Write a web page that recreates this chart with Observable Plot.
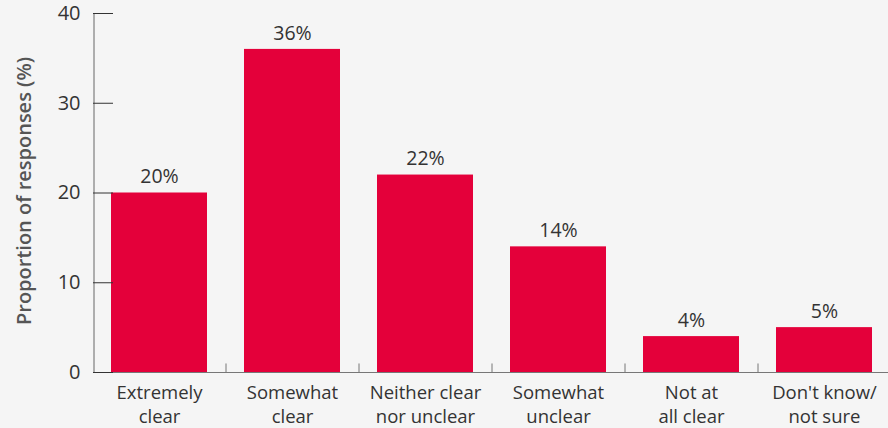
<!DOCTYPE html>
<html>
<head>
<meta charset="utf-8">
<script src="https://cdn.jsdelivr.net/npm/d3@7"></script>
<script src="https://cdn.jsdelivr.net/npm/@observablehq/plot@0.6"></script>
<style>
  html, body { margin: 0; padding: 0; background: #f5f5f5; }
  #chart svg { display: block; }
</style>
</head>
<body>
<div id="chart"></div>
<script>
const categories = ["Extremely clear", "Somewhat clear", "Neither clear nor unclear", "Somewhat unclear", "Not at all clear", "Don't know/ not sure"];
const tickLabels = ["Extremely\nclear", "Somewhat\nclear", "Neither clear\nnor unclear", "Somewhat\nunclear", "Not at\nall clear", "Don't know/\nnot sure"];
const values = [20, 36, 22, 14, 4, 5];
const yTicks = [0, 10, 20, 30, 40];
const yLabel = "Proportion of responses (%)";

const data = categories.map((c, i) => ({category: c, value: values[i], label: tickLabels[i]}));

const W = 888, H = 428;
const x0 = 93, x1 = 890;
const pInner = 37 / 133, pOuter = 18 / 133;
const step = (x1 - x0) / (categories.length - pInner + 2 * pOuter);
const bw = step * (1 - pInner);
const firstOffset = pOuter * step + bw / 2;
const font = "'Open Sans', 'Noto Sans', sans-serif";

const chart = Plot.plot({
  width: W,
  height: H,
  marginTop: 13,
  marginBottom: 56,
  marginLeft: 93,
  marginRight: 0,
  style: {background: "#f5f5f5", fontFamily: font, fontSize: "18px", color: "#333"},
  x: {domain: categories, range: [x0, x1], paddingInner: pInner, paddingOuter: pOuter, align: 0.5},
  y: {domain: [0, 40], range: [372, 13]},
  marks: [
    Plot.barY(data, {x: "category", y: "value", fill: "#e4003a"}),
    Plot.text(data, {x: "category", y: "value", text: d => d.value + "%", dy: -16, fill: "#333", fontSize: 19.5}),
    Plot.ruleX(categories.slice(1), {x: d => d, dx: -step / 2, y1: 0, y2: 0.95, stroke: "#777", strokeWidth: 1}),
    Plot.ruleX([categories[0]], {x: d => d, dx: -firstOffset + 0.5, y1: 0, y2: 40, stroke: "#666", strokeWidth: 1}),
    Plot.ruleY([0], {stroke: "#777", strokeWidth: 1}),
    Plot.axisY(yTicks, {tickSize: -20, text: null, stroke: "#333", label: null}),
    Plot.axisY(yTicks, {tickSize: 0, tickPadding: 13, fill: "#333", fontSize: 20, label: null}),
    Plot.axisX({tickSize: 0, tickPadding: 10, fill: "#333", fontSize: 18.5, lineHeight: 1.28, tickFormat: d => tickLabels[categories.indexOf(d)], label: null}),
    Plot.text([yLabel], {frameAnchor: "left", textAnchor: "middle", dx: -69, dy: -2, rotate: -90, fontSize: 20, fontWeight: 600, fill: "#555", text: d => d})
  ]
});
document.getElementById("chart").appendChild(chart);
</script>
</body>
</html>
